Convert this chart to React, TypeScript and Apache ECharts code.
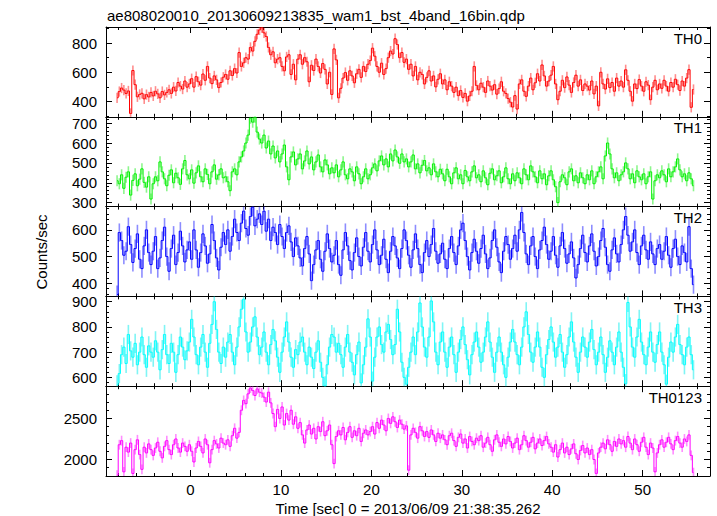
import React, { useEffect, useRef } from 'react';
import * as echarts from 'echarts';

const TITLE = 'ae808020010_20130609213835_wam1_bst_4band_16bin.qdp';
const X_TITLE = 'Time [sec] 0 = 2013/06/09 21:38:35.262';
const Y_TITLE = 'Counts/sec';

const T_START = -8.125;
const T_BIN = 0.25;
const X_MIN = -9.35;
const X_MAX = 57.45;
const X_MAJOR_TICKS = [0, 10, 20, 30, 40, 50];

const PANEL_NAMES = ['TH0', 'TH1', 'TH2', 'TH3', 'TH0123'];

const TH0 = [
  425, 468, 492, 478, 455, 472, 318, 612, 515, 432, 448, 456, 418, 447, 431, 462,
  438, 470, 452, 425, 468, 445, 462, 480, 455, 498, 472, 530, 505, 485, 540, 498,
  520, 556, 498, 570, 535, 512, 588, 545, 640, 560, 522, 575, 548, 495, 530, 566,
  585, 552, 610, 578, 625, 595, 735, 640, 665, 700, 690, 770, 745, 812, 860, 890,
  905, 870, 845, 770, 720, 740, 665, 690, 700, 640, 610, 705, 720, 585, 655, 548,
  690, 720, 655, 700, 672, 535, 648, 612, 690, 640, 595, 660, 620, 520, 600, 448,
  760, 685, 425, 490, 560, 598, 545, 610, 575, 528, 590, 620, 565, 640, 605, 655,
  680, 765, 710, 640, 600, 662, 585, 625, 700, 745, 725, 830, 790, 700, 735, 668,
  690, 620, 655, 575, 640, 548, 600, 585, 520, 565, 610, 540, 575, 500, 552, 590,
  520, 548, 480, 535, 505, 462, 498, 440, 475, 428, 455, 402, 438, 470, 640, 510,
  480, 525, 498, 462, 540, 505, 478, 515, 450, 488, 535, 470, 455, 420, 395, 362,
  440, 348, 520, 548, 470, 435, 505, 560, 480, 528, 590, 540, 650, 575, 505, 540,
  580, 640, 520, 412, 470, 545, 495, 568, 512, 462, 530, 580, 505, 548, 475, 520,
  505, 478, 540, 452, 505, 370, 600, 520, 485, 555, 495, 530, 470, 560, 505, 540,
  498, 617, 545, 470, 402, 520, 488, 550, 505, 470, 535, 512, 412, 498, 545, 480,
  520, 490, 545, 505, 470, 530, 498, 552, 515, 475, 540, 505, 560, 618, 360, 482,
];

const TH1 = [
  410, 395, 440, 372, 428, 455, 338, 412, 445, 385, 418, 470, 402, 378, 430, 318,
  395, 430, 410, 505, 455, 420, 385, 438, 465, 400, 448, 425, 392, 470, 512, 440,
  420, 465, 398, 450, 485, 430, 405, 470, 442, 395, 455, 490, 418, 440, 470, 425,
  430, 405, 360, 455, 470, 440, 505, 530, 560, 600, 640, 725, 705, 730, 655, 620,
  600, 640, 575, 610, 545, 585, 525, 560, 505, 545, 590, 480, 415, 530, 555, 490,
  520, 545, 470, 510, 560, 495, 530, 465, 505, 540, 480, 455, 515, 490, 445, 475,
  450, 490, 430, 465, 505, 440, 420, 470, 455, 410, 480, 445, 395, 430, 470, 420,
  440, 475, 495, 460, 510, 535, 490, 520, 480, 545, 510, 565, 530, 498, 545, 505,
  520, 480, 505, 540, 470, 495, 450, 488, 512, 460, 475, 440, 495, 455, 430, 468,
  445, 410, 468, 430, 395, 450, 475, 420, 440, 395, 462, 430, 410, 455, 485, 425,
  440, 405, 460, 425, 390, 448, 470, 415, 435, 460, 400, 430, 475, 420, 395, 445,
  410, 450, 425, 395, 470, 440, 415, 485, 455, 430, 400, 460, 420, 445, 390, 435,
  460, 415, 380, 300, 405, 440, 425, 390, 455, 470, 410, 435, 400, 450, 425, 395,
  440, 415, 460, 395, 430, 455, 480, 420, 535, 600, 545, 470, 425, 450, 410, 440,
  455, 500, 470, 420, 445, 400, 460, 430, 415, 445, 395, 430, 455, 318, 410, 440,
  425, 460, 440, 405, 470, 430, 455, 480, 520, 465, 430, 445, 410, 450, 420, 385,
];

const TH2 = [
  358, 590, 560, 505, 520, 612, 545, 478, 530, 585, 490, 455, 540, 600, 515, 470,
  520, 575, 455, 495, 560, 610, 500, 445, 530, 580, 470, 515, 595, 540, 480, 525,
  555, 490, 600, 525, 460, 515, 585, 540, 475, 510, 620, 560, 495, 450, 535, 590,
  545, 600, 520, 575, 640, 590, 560, 625, 670, 605, 580, 650, 685, 615, 640, 660,
  620, 670, 595, 640, 560, 610, 590, 545, 620, 575, 530, 590, 615, 555, 500, 570,
  540, 495, 465, 530, 575, 510, 410, 470, 525, 560, 490, 445, 520, 585, 530, 480,
  505, 560, 470, 430, 525, 590, 540, 485, 450, 515, 570, 500, 465, 535, 590, 520,
  480, 545, 600, 525, 470, 505, 565, 490, 440, 520, 575, 540, 495, 455, 530, 600,
  560, 505, 460, 525, 585, 530, 470, 440, 515, 560, 500, 545, 605, 520, 475, 510,
  550, 490, 455, 530, 575, 515, 470, 540, 600, 625, 560, 500, 450, 515, 565, 520,
  475, 530, 580, 510, 455, 495, 560, 600, 535, 480, 440, 520, 575, 545, 490, 530,
  580, 520, 600, 665, 590, 510, 470, 540, 575, 500, 455, 525, 560, 610, 545, 490,
  520, 575, 505, 460, 540, 590, 530, 475, 510, 555, 495, 420, 470, 530, 580, 515,
  480, 540, 585, 520, 465, 500, 560, 605, 535, 470, 445, 525, 570, 510, 480, 545,
  600, 650, 580, 520, 555, 600, 515, 470, 540, 580, 525, 490, 555, 510, 470, 530,
  545, 490, 520, 575, 505, 460, 530, 565, 500, 470, 540, 515, 480, 612, 455, 395,
];

const TH3 = [
  570, 615, 690, 720, 655, 770, 705, 680, 735, 650, 700, 760, 690, 640, 725, 700,
  680, 745, 700, 630, 710, 770, 690, 655, 735, 700, 620, 690, 760, 720, 670, 705,
  740, 830, 760, 690, 650, 720, 770, 700, 640, 735, 810, 900, 790, 700, 655, 720,
  680, 740, 770, 700, 650, 720, 800, 870, 910, 780, 700, 740, 800, 840, 760, 690,
  720, 780, 700, 650, 730, 790, 745, 680, 620, 700, 760, 820, 740, 680, 640, 710,
  690, 740, 760, 700, 650, 720, 680, 635, 700, 745, 660, 600, 566, 650, 720, 770,
  760, 700, 735, 690, 640, 720, 770, 700, 660, 610, 690, 740, 578, 650, 720, 832,
  760, 585, 680, 760, 800, 730, 700, 780, 810, 750, 690, 730, 870, 780, 660, 600,
  573, 640, 700, 760, 690, 780, 895, 800, 720, 680, 760, 903, 820, 700, 650, 740,
  780, 700, 640, 720, 760, 690, 620, 700, 750, 800, 730, 670, 610, 690, 740, 780,
  720, 660, 700, 760, 820, 740, 680, 620, 700, 760, 700, 650, 600, 680, 740, 790,
  740, 690, 650, 720, 800, 860, 770, 700, 660, 720, 780, 720, 640, 600, 690, 750,
  800, 740, 680, 720, 770, 700, 640, 690, 760, 820, 740, 680, 620, 700, 760, 720,
  680, 740, 790, 710, 650, 700, 760, 690, 620, 680, 745, 700, 650, 720, 780, 700,
  640, 575, 897, 800, 720, 680, 760, 830, 740, 690, 650, 720, 780, 700, 660, 730,
  780, 700, 650, 573, 680, 740, 700, 760, 810, 730, 690, 650, 720, 760, 690, 630,
];

const TH0123 = [
  1810, 2180, 2230, 1850, 2150, 2090, 2200, 1830, 2120, 2240, 2060, 1880, 2150, 2080, 2190, 2120,
  2050, 2140, 2210, 2100, 2020, 2160, 2230, 2120, 2060, 2180, 2250, 2140, 2090, 2200, 2160, 2100,
  2180, 2100, 1970, 2140, 2220, 2160, 2080, 2250, 2180, 1960, 2120, 2230, 2190, 2140, 2260, 2200,
  2180, 2240, 2160, 2290, 2380, 2260, 2330, 2600, 2720, 2680, 2800, 2870, 2840, 2780, 2860, 2820,
  2810, 2760, 2700, 2820, 2690, 2560, 2400, 2610, 2500, 2640, 2420, 2560, 2480, 2600, 2430, 2520,
  2380, 2450, 2300, 2200, 2360, 2420, 2310, 2380, 2250, 2400, 2340, 2460, 2290, 2350, 2420, 2180,
  1950, 2280, 2350, 2300, 2390, 2240, 2330, 2400, 2270, 2350, 2290, 2380, 2220, 2320, 2360, 2300,
  2340, 2400, 2310, 2450, 2380, 2480, 2420, 2350, 2500, 2440, 2520, 2460, 2390, 2480, 2430, 2370,
  2410, 1870, 2300, 2380, 2330, 2260, 2400, 2350, 2280, 2340, 2270, 2360, 2300, 2220, 2320, 2260,
  2300, 2240, 2180, 2290, 2320, 2230, 2160, 2270, 2310, 2200, 2250, 2140, 2280, 2220, 2180, 2260,
  2230, 2290, 2150, 2200, 2270, 2180, 2100, 2240, 2300, 2210, 2160, 2250, 2190, 2280, 2220, 2140,
  2200, 2260, 2120, 2180, 2290, 2230, 2150, 2210, 2270, 2130, 2200, 2250, 2170, 2230, 2280, 2190,
  2150, 2090, 2180, 2030, 2120, 2200, 2080, 2150, 2060, 2130, 2190, 2070, 2000, 2110, 2170, 2080,
  2140, 2060, 2120, 2000, 1830, 2080, 2150, 2200, 2130, 2240, 2180, 2100, 2220, 2160, 2250, 2190,
  2230, 2150, 2280, 2200, 2120, 2250, 2180, 2100, 2210, 2270, 2150, 2060, 2200, 2140, 1850, 2080,
  2180, 2240, 2150, 2210, 2270, 2190, 2120, 2230, 2280, 2200, 2150, 2250, 2220, 2300, 2050, 1840,
];

const PANEL_VALUES = [TH0, TH1, TH2, TH3, TH0123];
const PANEL_ERRORS = [35, 28, 34, 38, 60];
const Y_MINS = [295, 280, 351, 565, 1799];
const Y_MAXS = [910, 732, 687, 921, 2893];
const Y_MAJOR_TICKS = [
  [400, 600, 800],
  [300, 400, 500, 600, 700],
  [400, 500, 600],
  [600, 700, 800, 900],
  [2000, 2500],
];
const Y_MINOR_STEPS = [100, 20, 20, 20, 100];

const LINE_COLORS = ['#ff0000', '#00f000', '#0000ff', '#00ffff', '#ff00ff'];
const ERROR_COLORS = [
  'rgba(255,0,0,0.45)',
  'rgba(0,235,0,0.45)',
  'rgba(0,0,255,0.45)',
  'rgba(0,235,235,0.5)',
  'rgba(255,0,255,0.45)',
];

const FONT = 'Liberation Sans';
const GRID_LEFT = 106;
const GRID_RIGHT = 7;
const GRID_TOP = 27;
const PANEL_H = 89.8;
const MAJOR_LEN = 6;
const MINOR_LEN = 3;

function minorTicks(min: number, max: number, step: number, majors: number[]) {
  const out: number[] = [];
  for (let v = Math.ceil(min / step) * step; v <= max; v += step) {
    if (!majors.includes(v)) out.push(v);
  }
  return out;
}

const labelFmt = (v: number) => String(v);

function makeX(grid: number, position: string, ticks: number[], len: number, line: boolean, labels: boolean) {
  return {
    type: 'value',
    gridIndex: grid,
    position,
    min: X_MIN,
    max: X_MAX,
    axisLine: { show: line, onZero: false, lineStyle: { color: '#000', width: 1 } },
    axisTick: { show: true, inside: true, length: len, customValues: ticks, lineStyle: { color: '#000', width: 1 } },
    axisLabel: {
      show: labels,
      customValues: ticks,
      margin: 6,
      fontSize: 15,
      fontFamily: FONT,
      color: '#000',
      formatter: labelFmt,
    },
    splitLine: { show: false },
  };
}

function makeY(grid: number, position: string, ticks: number[], len: number, line: boolean, labels: boolean) {
  return {
    type: 'value',
    gridIndex: grid,
    position,
    min: Y_MINS[grid],
    max: Y_MAXS[grid],
    axisLine: { show: line, onZero: false, lineStyle: { color: '#000', width: 1 } },
    axisTick: { show: true, inside: true, length: len, customValues: ticks, lineStyle: { color: '#000', width: 1 } },
    axisLabel: {
      show: labels,
      customValues: ticks,
      margin: 9,
      fontSize: 15,
      fontFamily: FONT,
      color: '#000',
      formatter: labelFmt,
    },
    splitLine: { show: false },
  };
}

export default function App() {
  const ref = useRef<HTMLDivElement>(null);

  useEffect(() => {
    if (!ref.current) return;
    const chart = echarts.init(ref.current, undefined, { renderer: 'svg' });

    const xMinor = minorTicks(X_MIN, X_MAX, 2, X_MAJOR_TICKS);
    const grids: any[] = [];
    const xAxes: any[] = [];
    const yAxes: any[] = [];
    const series: any[] = [];
    const graphics: any[] = [];

    PANEL_NAMES.forEach((name, p) => {
      const top = GRID_TOP + p * PANEL_H;
      grids.push({ left: GRID_LEFT, right: GRID_RIGHT, top, height: PANEL_H, containLabel: false });

      xAxes.push(makeX(p, 'bottom', X_MAJOR_TICKS, MAJOR_LEN, true, p === PANEL_NAMES.length - 1));
      xAxes.push(makeX(p, 'bottom', xMinor, MINOR_LEN, false, false));
      xAxes.push(makeX(p, 'top', X_MAJOR_TICKS, MAJOR_LEN, true, false));
      xAxes.push(makeX(p, 'top', xMinor, MINOR_LEN, false, false));

      const yMajor = Y_MAJOR_TICKS[p];
      const yMinor = minorTicks(Y_MINS[p], Y_MAXS[p], Y_MINOR_STEPS[p], yMajor);
      yAxes.push(makeY(p, 'left', yMajor, MAJOR_LEN, true, true));
      yAxes.push(makeY(p, 'left', yMinor, MINOR_LEN, false, false));
      yAxes.push(makeY(p, 'right', yMajor, MAJOR_LEN, true, false));
      yAxes.push(makeY(p, 'right', yMinor, MINOR_LEN, false, false));

      const values = PANEL_VALUES[p];
      const err = PANEL_ERRORS[p];
      const errColor = ERROR_COLORS[p];

      series.push({
        type: 'custom',
        xAxisIndex: 4 * p,
        yAxisIndex: 4 * p,
        silent: true,
        z: 1,
        data: values.map((v, i) => [T_START + i * T_BIN, v, err]),
        renderItem: (params: any, api: any) => {
          const t = api.value(0);
          const v = api.value(1);
          const e = api.value(2);
          const cs = params.coordSys;
          const a = api.coord([t, v + e]);
          const b = api.coord([t, v - e]);
          const clampY = (y: number) => Math.max(cs.y, Math.min(cs.y + cs.height, y));
          return {
            type: 'line',
            shape: { x1: a[0], y1: clampY(a[1]), x2: a[0], y2: clampY(b[1]) },
            style: { stroke: errColor, lineWidth: 1.6 },
          };
        },
      });

      series.push({
        type: 'line',
        xAxisIndex: 4 * p,
        yAxisIndex: 4 * p,
        silent: true,
        z: 2,
        step: 'middle',
        symbol: 'none',
        showSymbol: false,
        lineStyle: { color: LINE_COLORS[p], width: 1 },
        itemStyle: { color: LINE_COLORS[p] },
        data: values.map((v, i) => [T_START + i * T_BIN, v]),
      });

      graphics.push({
        type: 'text',
        x: 702,
        y: top + 11,
        z: 10,
        style: {
          text: name,
          font: `15px "${FONT}"`,
          fill: '#000',
          align: 'right',
          verticalAlign: 'middle',
        },
      });
    });

    graphics.push({
      type: 'text',
      x: 107,
      y: 15,
      style: { text: TITLE, font: `15px "${FONT}"`, fill: '#000', align: 'left', verticalAlign: 'middle' },
    });
    graphics.push({
      type: 'text',
      x: 408,
      y: 508,
      style: { text: X_TITLE, font: `15px "${FONT}"`, fill: '#000', align: 'center', verticalAlign: 'middle' },
    });
    graphics.push({
      type: 'text',
      x: 41,
      y: 252,
      rotation: Math.PI / 2,
      style: { text: Y_TITLE, font: `15px "${FONT}"`, fill: '#000', align: 'center', verticalAlign: 'middle' },
    });

    chart.setOption({
      animation: false,
      backgroundColor: '#ffffff',
      textStyle: { fontFamily: FONT },
      grid: grids,
      xAxis: xAxes,
      yAxis: yAxes,
      series,
      graphic: graphics,
    });

    return () => chart.dispose();
  }, []);

  return (
    <div
      ref={ref}
      style={{ position: 'fixed', left: 0, top: 0, width: 717, height: 516, background: '#fff' }}
    />
  );
}
